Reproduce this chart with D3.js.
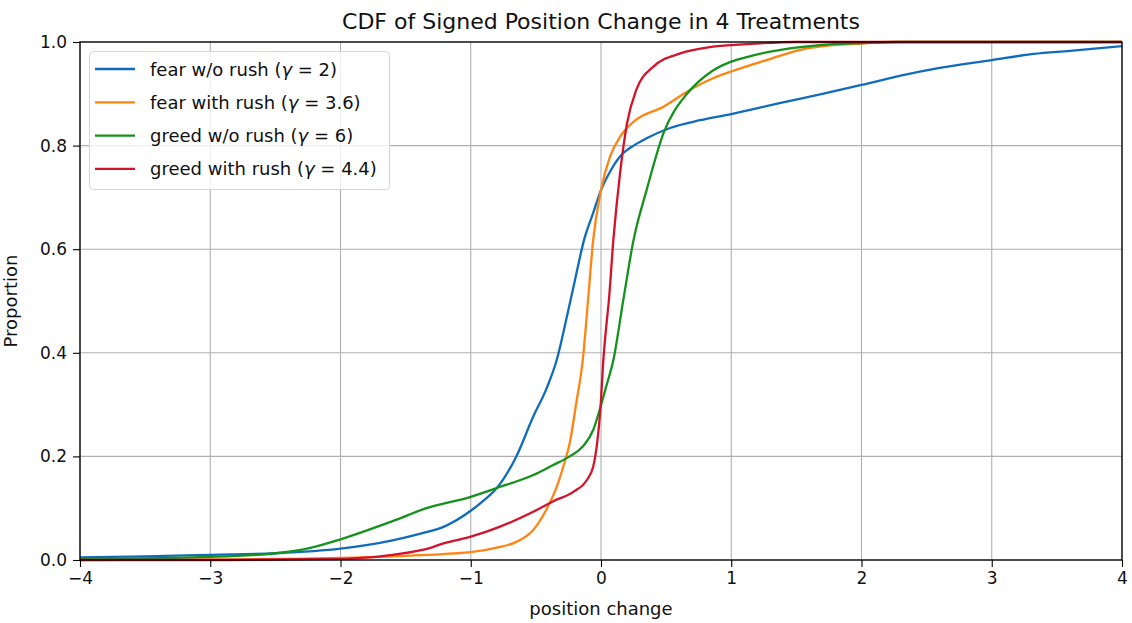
<!DOCTYPE html>
<html>
<head>
<meta charset="utf-8">
<script src="https://cdn.jsdelivr.net/npm/d3@7"></script>
<style>
body { margin: 0; background: #fff; }
svg { display: block; font-family: "DejaVu Sans", sans-serif; }
</style>
</head>
<body>
<svg id="chart" width="1132" height="623"></svg>
<script>
// ---- data ----
const xTicks = [-4, -3, -2, -1, 0, 1, 2, 3, 4];
const yTicks = [0, 0.2, 0.4, 0.6, 0.8, 1.0];

const seriesNames = [
  ["fear w/o rush (", "γ", " = 2)"],
  ["fear with rush (", "γ", " = 3.6)"],
  ["greed w/o rush (", "γ", " = 6)"],
  ["greed with rush (", "γ", " = 4.4)"]
];
const seriesColors = ["#0f6cbd", "#ff8412", "#15921c", "#d3122b"];

const fearNoRushX = [-4, -3.5, -3, -2.5, -2, -1.6, -1.4, -1.2, -1.0, -0.9, -0.8, -0.65, -0.52, -0.42, -0.34, -0.26, -0.2, -0.13, -0.06, 0, 0.07, 0.146, 0.25, 0.35, 0.53, 0.76, 1.0, 1.37, 1.7, 2.0, 2.3, 2.6, 3.0, 3.32, 3.6, 4.0];
const fearNoRushY = [0.005, 0.007, 0.01, 0.013, 0.022, 0.038, 0.05, 0.065, 0.095, 0.115, 0.139, 0.2, 0.277, 0.33, 0.386, 0.472, 0.54, 0.618, 0.67, 0.714, 0.75, 0.779, 0.8, 0.814, 0.834, 0.849, 0.861, 0.882, 0.9, 0.917, 0.935, 0.95, 0.965, 0.977, 0.983, 0.992];

const fearRushX = [-4, -3, -2, -1.6, -1.34, -1.0, -0.8, -0.65, -0.52, -0.42, -0.34, -0.29, -0.24, -0.19, -0.14, -0.1, -0.06, 0, 0.07, 0.146, 0.25, 0.48, 0.68, 0.86, 1.0, 1.27, 1.53, 1.78, 2.0, 2.2, 4];
const fearRushY = [0.0, 0.001, 0.004, 0.007, 0.01, 0.015, 0.024, 0.035, 0.058, 0.097, 0.141, 0.18, 0.226, 0.303, 0.386, 0.5, 0.618, 0.714, 0.779, 0.817, 0.846, 0.875, 0.907, 0.93, 0.943, 0.965, 0.985, 0.994, 0.997, 1.0, 1.0];

const greedNoRushX = [-4, -3, -2.5, -2.24, -2, -1.6, -1.34, -1.0, -0.8, -0.52, -0.37, -0.24, -0.14, -0.06, -0.01, 0.04, 0.095, 0.17, 0.25, 0.35, 0.48, 0.66, 0.76, 0.86, 1.0, 1.12, 1.27, 1.53, 1.78, 2.0, 2.3, 4];
const greedNoRushY = [0.002, 0.006, 0.013, 0.023, 0.04, 0.075, 0.1, 0.122, 0.139, 0.164, 0.183, 0.2, 0.219, 0.251, 0.29, 0.335, 0.386, 0.5, 0.618, 0.714, 0.824, 0.9, 0.926, 0.945, 0.962, 0.971, 0.98, 0.99, 0.996, 0.998, 1.0, 1.0];

const greedRushX = [-4, -3, -2, -1.85, -1.6, -1.29, -1.21, -1.0, -0.78, -0.52, -0.37, -0.21, -0.11, -0.06, -0.03, -0.005, 0.018, 0.04, 0.06, 0.095, 0.146, 0.2, 0.27, 0.4, 0.61, 0.86, 1.12, 1.5, 4];
const greedRushY = [0, 0, 0.002, 0.004, 0.01, 0.025, 0.032, 0.045, 0.064, 0.093, 0.113, 0.132, 0.154, 0.18, 0.225, 0.29, 0.386, 0.45, 0.5, 0.618, 0.746, 0.843, 0.907, 0.952, 0.978, 0.991, 0.996, 1.0, 1.0];

const seriesX = [fearNoRushX, fearRushX, greedNoRushX, greedRushX];
const seriesY = [fearNoRushY, fearRushY, greedNoRushY, greedRushY];

// ---- layout ----
const svg = d3.select("#chart");
const L = 80, R = 1122, T = 42, B = 560;
const x = d3.scaleLinear().domain([-4, 4]).range([L, R]);
const y = d3.scaleLinear().domain([0, 1]).range([B, T]);
const fmtX = d => (d < 0 ? "\u2212" + Math.abs(d) : String(d));

// grid
const grid = svg.append("g");
grid.selectAll(".gx").data(xTicks).enter().append("line")
  .attr("x1", d => x(d)).attr("x2", d => x(d)).attr("y1", T).attr("y2", B)
  .attr("stroke", "#b0b0b0").attr("stroke-width", 1.1);
grid.selectAll(".gy").data(yTicks).enter().append("line")
  .attr("y1", d => y(d)).attr("y2", d => y(d)).attr("x1", L).attr("x2", R)
  .attr("stroke", "#b0b0b0").attr("stroke-width", 1.1);

// lines
svg.append("clipPath").attr("id", "clip").append("rect")
  .attr("x", L).attr("y", T - 2).attr("width", R - L).attr("height", B - T + 4);
const line = d3.line().curve(d3.curveMonotoneX).x(d => x(d[0])).y(d => y(d[1]));
const lines = svg.append("g").attr("clip-path", "url(#clip)");
seriesX.forEach((xs, i) => {
  const pts = xs.map((v, j) => [v, seriesY[i][j]]);
  lines.append("path").datum(pts).attr("d", line)
    .attr("fill", "none").attr("stroke", seriesColors[i])
    .attr("stroke-width", 2.3).attr("stroke-linejoin", "round");
});

// axes
const xAxis = svg.append("g").attr("transform", `translate(0,${B})`)
  .call(d3.axisBottom(x).tickValues(xTicks).tickFormat(fmtX).tickSize(7).tickPadding(5));
const yAxis = svg.append("g").attr("transform", `translate(${L},0)`)
  .call(d3.axisLeft(y).tickValues(yTicks).tickFormat(d3.format(".1f")).tickSize(7).tickPadding(6));
[xAxis, yAxis].forEach(a => {
  a.select(".domain").remove();
  a.selectAll("line").attr("stroke", "#000").attr("stroke-width", 1.1);
  a.selectAll("text").attr("font-size", 17).attr("fill", "#111")
    .attr("font-family", "DejaVu Sans, sans-serif");
});

// frame
svg.append("rect").attr("x", L).attr("y", T).attr("width", R - L).attr("height", B - T)
  .attr("fill", "none").attr("stroke", "#000").attr("stroke-width", 1.3);

// title & labels
svg.append("text").attr("x", (L + R) / 2).attr("y", 29).attr("text-anchor", "middle")
  .attr("font-size", 22).attr("fill", "#111").text("CDF of Signed Position Change in 4 Treatments");
svg.append("text").attr("x", (L + R) / 2).attr("y", 615).attr("text-anchor", "middle")
  .attr("font-size", 18).attr("fill", "#111").text("position change");
svg.append("text").attr("transform", `translate(17,${(T + B) / 2}) rotate(-90)`)
  .attr("text-anchor", "middle").attr("font-size", 18).attr("fill", "#111").text("Proportion");

// legend
const lg = svg.append("g");
lg.append("rect").attr("x", 89.5).attr("y", 51.5).attr("width", 300).attr("height", 138)
  .attr("rx", 4).attr("fill", "rgba(255,255,255,0.8)").attr("stroke", "#d6d6d6").attr("stroke-width", 1);
seriesNames.forEach((parts, i) => {
  const yy = 69 + i * 33.3;
  lg.append("line").attr("x1", 95).attr("x2", 135).attr("y1", yy).attr("y2", yy)
    .attr("stroke", seriesColors[i]).attr("stroke-width", 2.3);
  const t = lg.append("text").attr("x", 150).attr("y", yy + 6.5).attr("font-size", 18).attr("fill", "#111");
  t.append("tspan").text(parts[0]);
  t.append("tspan").attr("font-style", "italic").text(parts[1]);
  t.append("tspan").text(parts[2]);
});
</script>
</body>
</html>
